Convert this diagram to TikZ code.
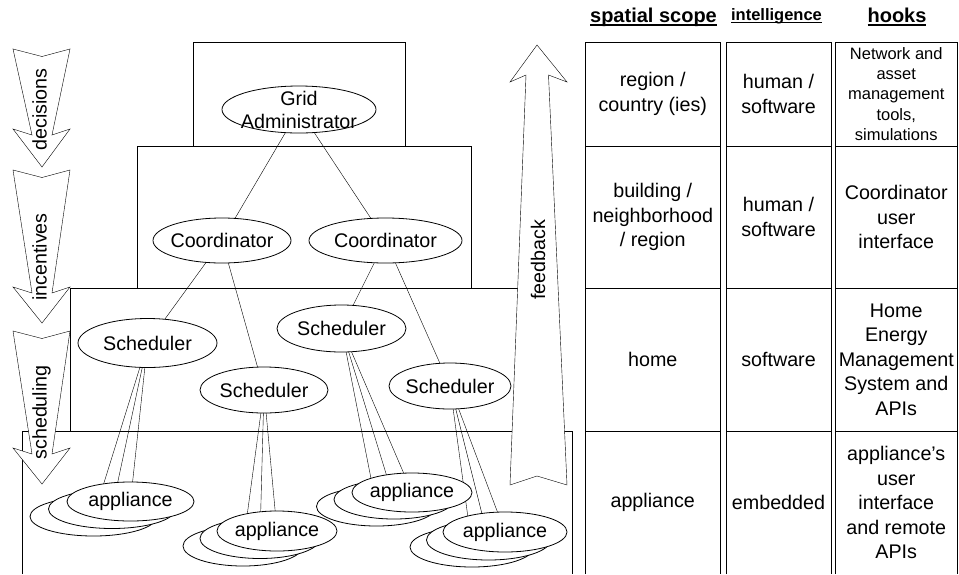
\documentclass[tikz,border=0pt]{standalone}
\usepackage{fontspec}
\setmainfont{Liberation Sans}
\usetikzlibrary{shapes.geometric,backgrounds}

% down-pointing notched, tapered arrow: top y, wing y, tip y
\newcommand{\flowdown}[3]{%
  \path[bigarrow] (13,#1) -- (42,#1+7.5) -- (70,#1) -- (52,#2+6) -- (70,#2)
    -- (42,#3) -- (13,#2) -- (32,#2+6) -- cycle;}

\begin{document}
\begin{tikzpicture}[x=1pt, y=-1pt, line width=0.8pt,
  font=\fontsize{19.7}{24.5}\selectfont,
  oval/.style={draw, ellipse, fill=white, inner sep=0pt, outer sep=0pt},
  cell/.style={rectangle, inner sep=0pt, outer sep=0pt, align=center},
  framed/.style={draw},
  head/.style={inner sep=0pt, outer sep=0pt, anchor=base,
    font=\fontsize{20}{24}\selectfont\bfseries},
  headline/.style={line width=1.7pt},
  sidelabel/.style={rotate=90, anchor=base, inner sep=0pt},
  bigarrow/.style={draw, fill=white, line join=miter},
  link/.style={draw}
]
\useasboundingbox (0,0) rectangle (959,574);

% ---- hierarchy ----
\node[oval, minimum width=154, minimum height=47,
  label={[align=center, font=\fontsize{19.7}{23}\selectfont]center:Grid\\Administrator}]
  (grid) at (299,109.5) {};

\node[oval, minimum width=138, minimum height=45, label=center:Coordinator] (c1) at (222,240.5) {};
\node[oval, minimum width=153, minimum height=45, label=center:Coordinator] (c2) at (385.5,240.5) {};

\node[oval, minimum width=139, minimum height=49, label=center:Scheduler] (s1) at (147.5,343) {};
\node[oval, minimum width=128, minimum height=46, label=center:Scheduler] (s2) at (264,390) {};
\node[oval, minimum width=129, minimum height=47, label=center:Scheduler] (s3) at (341.5,328.5) {};
\node[oval, minimum width=122, minimum height=46, label=center:Scheduler] (s4) at (450,386) {};

% appliance stacks (back, middle, front)
\node[oval, minimum width=127, minimum height=39] (a1b) at (93.5,516.5) {};
\node[oval, minimum width=127, minimum height=39] (a1m) at (112,509) {};
\node[oval, minimum width=127, minimum height=39, label=center:appliance] (a1f) at (130.5,501.5) {};

\node[oval, minimum width=120, minimum height=40] (a2b) at (243,546) {};
\node[oval, minimum width=120, minimum height=40] (a2m) at (260,538.5) {};
\node[oval, minimum width=120, minimum height=40, label=center:appliance] (a2f) at (277,531) {};

\node[oval, minimum width=120, minimum height=39] (a3b) at (376.5,506.5) {};
\node[oval, minimum width=120, minimum height=39] (a3m) at (394,499.5) {};
\node[oval, minimum width=120, minimum height=39, label=center:appliance] (a3f) at (412,492.5) {};

\node[oval, minimum width=124, minimum height=40] (a4b) at (472,547) {};
\node[oval, minimum width=124, minimum height=40] (a4m) at (488.5,540) {};
\node[oval, minimum width=124, minimum height=40, label=center:appliance] (a4f) at (505,532) {};

\begin{pgfonlayer}{background}
  % layers
  \draw (193,42) rectangle (405,146);
  \draw (137,146) rectangle (471,288);
  \draw (70,288) rectangle (530,431);
  \draw (22,574) -- (22,431) -- (572,431) -- (572,574);
  % links
  \path[link] (grid) -- (c1);
  \path[link] (grid) -- (c2);
  \path[link] (c1) -- (s1);
  \path[link] (c1) -- (s2);
  \path[link] (c2) -- (s3);
  \path[link] (c2) -- (s4);
  \foreach \s/\a in {s1/a1, s2/a2, s3/a3, s4/a4}{
    \path[link] (\s) -- (\a b);
    \path[link] (\s) -- (\a m);
    \path[link] (\s) -- (\a f);
  }
\end{pgfonlayer}

% ---- side arrows ----
\flowdown{49}{129}{167}
\flowdown{170}{287}{323}
\flowdown{331}{448}{484}
\node[sidelabel] (ldec) at (46.5,109.5) {decisions};
\node[sidelabel] (linc) at (46.5,257) {incentives};
\node[sidelabel] (lsch) at (46.5,412.5) {scheduling};

\path[bigarrow] (510,485) -- (537,476) -- (567,485) -- (548.5,75) -- (567,82)
  -- (537,45) -- (510,82) -- (526,75) -- cycle;
\node[sidelabel] (lfb) at (545,260) {feedback};

% ---- table ----
\node[head] (hsp) at (653.5,22.7) {spatial scope};
\node[head, font=\fontsize{16.5}{20}\selectfont\bfseries] (hin) at (776.5,20) {intelligence};
\node[head] (hho) at (897,22.7) {hooks};
\draw[headline] ([yshift=-2.5pt]hsp.base west) -- ([yshift=-2.5pt]hsp.base east);
\draw[headline, line width=1.4pt] ([yshift=-2.3pt]hin.base west) -- ([yshift=-2.3pt]hin.base east);
\draw[headline] ([yshift=-2.5pt]hho.base west) -- ([yshift=-2.5pt]hho.base east);

% row 1
\node[cell, framed, minimum width=134.5, minimum height=104] (sp1) at (652.75,94) {region /\\country (ies)};
\node[cell, framed, minimum width=105, minimum height=104] (in1) at (778.5,94) {human /\\software};
\node[cell, framed, minimum width=122.5, minimum height=104, font=\fontsize{16.5}{20.2}\selectfont]
  (ho1) at (896.25,94) {Network and\\asset\\management\\tools,\\simulations};
% row 2
\node[cell, framed, minimum width=134.5, minimum height=142] (sp2) at (652.75,217) {building /\\neighborhood\\/ region};
\node[cell, framed, minimum width=105, minimum height=142] (in2) at (778.5,217) {human /\\software};
\node[cell, framed, minimum width=122.5, minimum height=142] (ho2) at (896.25,217) {Coordinator\\user\\interface};
% row 3
\node[cell, framed, minimum width=134.5, minimum height=143] (sp3) at (652.75,359.5) {home};
\node[cell, framed, minimum width=105, minimum height=143] (in3) at (778.5,359.5) {software};
\node[cell, framed, minimum width=122.5, minimum height=143] (ho3) at (896.25,359.5)
  {Home\\Energy\\Management\\System and\\APIs};
% row 4 (runs off the bottom edge)
\node[cell, minimum width=134.5, minimum height=143] (sp4) at (652.75,502.5) {appliance};
\node[cell, minimum width=105, minimum height=143] (in4) at (778.5,502.5) {embedded};
\node[cell, minimum width=122.5, minimum height=143] (ho4) at (896.25,502.5)
  {appliance’s\\user\\interface\\and remote\\APIs};
\foreach \c in {sp4, in4, ho4}
  \draw (\c.south west) -- (\c.north west) -- (\c.north east) -- (\c.south east);
\end{tikzpicture}
\end{document}
